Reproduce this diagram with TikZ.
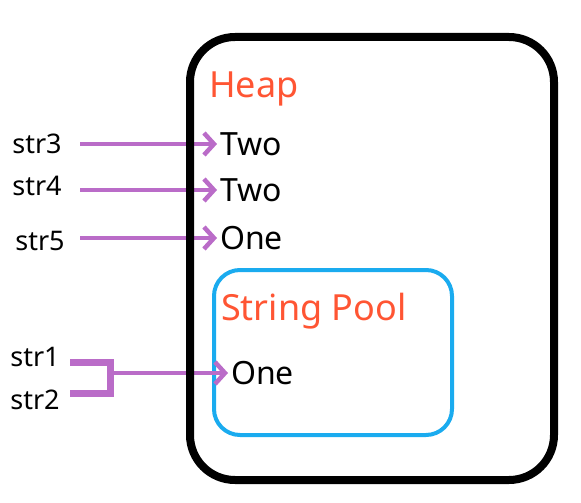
\documentclass[tikz,border=0pt]{standalone}
\usepackage{fontspec}
\setmainfont{Noto Sans}
\usepackage{xcolor}
\usepackage{tikz}
\usetikzlibrary{arrows.meta, positioning, calc}

\definecolor{heapred}{RGB}{255,85,51}
\definecolor{poolblue}{RGB}{26,171,239}
\definecolor{refpurple}{RGB}{186,108,200}

\begin{document}
\begin{tikzpicture}[
  x=1pt, y=-1pt,
  ref/.style={font=\fontsize{27}{29}\selectfont, inner sep=2pt},
  obj/.style={font=\fontsize{32}{34}\selectfont, inner sep=3pt},
  ttl/.style={font=\fontsize{36}{38}\selectfont, text=heapred, inner sep=0pt},
  arr/.style={-{Straight Barb[length=10pt, width=22pt]}, line width=4.5pt,
              draw=refpurple},
  brk/.style={line width=7pt, draw=refpurple},
  heapbox/.style={draw, line width=8pt, rounded corners=45pt},
  poolbox/.style={draw=poolblue, line width=4pt, rounded corners=26pt},
]
\useasboundingbox (0,0) rectangle (581,503);

% ---- String pool -----------------------------------------------------------
\draw[poolbox] (214,270) rectangle (452,435);
\node[ttl, anchor=west] (pool) at (221,311) {String Pool};
\node[obj, anchor=west] (p1) at (228,373) {One};

% ---- Heap objects ----------------------------------------------------------
\node[ttl, anchor=west] (heap) at (209,89) {Heap};
\node[obj, anchor=west] (h1) at (217,144) {Two};
\node[obj, anchor=west] (h2) at (217,190) {Two};
\node[obj, anchor=west] (h3) at (217,238) {One};

% ---- References ------------------------------------------------------------
\node[ref] (s3) at (37,144) {str3};
\node[ref] (s4) at (37,186) {str4};
\node[ref] (s5) at (40,241) {str5};
\node[ref] (s1) at (35,357) {str1};
\node[ref] (s2) at (35,400) {str2};

\coordinate (t3) at (80,144);
\coordinate (t4) at (80,190);
\coordinate (t5) at (80,238);
\draw[arr] (t3) -- (h1.west);
\draw[arr] (t4) -- (h2.west);
\draw[arr] (t5) -- (h3.west);

% ---- Shared literal (bracket) ----------------------------------------------
\coordinate (b1) at (70,362);
\coordinate (b2) at (70,393);
\coordinate (join) at (110,373);
\draw[brk] (b1) -- (b1 -| join) -- (b2 -| join) -- (b2);
\draw[arr] (join) -- (p1.west);

% ---- Heap boundary ---------------------------------------------------------
\draw[heapbox] (190,37) rectangle (554,480);

\end{tikzpicture}
\end{document}
